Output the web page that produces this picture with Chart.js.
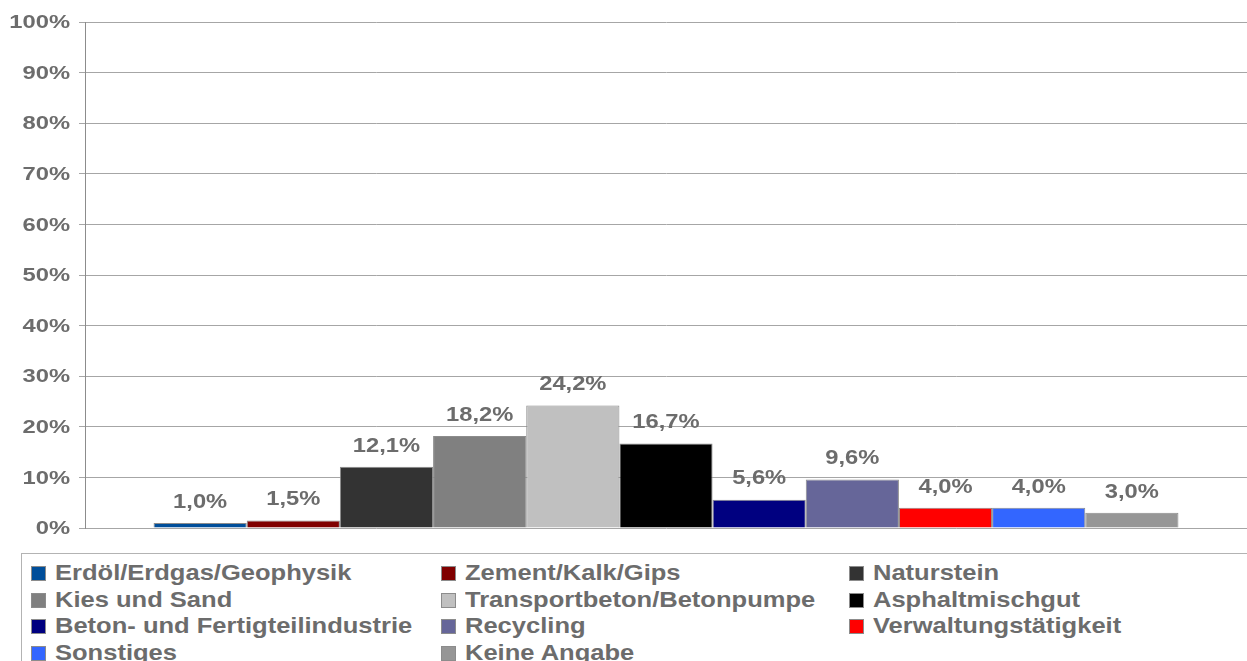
<!DOCTYPE html>
<html>
<head>
<meta charset="utf-8">
<script src="https://cdn.jsdelivr.net/npm/chart.js@4.4.1/dist/chart.umd.min.js"></script>
<style>
  html, body { margin: 0; padding: 0; background: #fff; overflow: hidden; }
  #wrap { position: relative; width: 1247px; height: 661px; }
  #chartBox { position: absolute; left: 0; top: 0; width: 1247px; height: 545px; }
  #legend {
    position: absolute; left: 21px; top: 553px; width: 1240px; height: 120px;
    border: 1px solid #b3b3b3; box-sizing: border-box;
    font-family: "Liberation Sans", Arial, sans-serif; font-weight: bold;
    font-size: 22px; color: #6c6c6c;
  }
  .item { position: absolute; height: 27px; line-height: 27px; white-space: nowrap; }
  .sw { position: absolute; left: 0; top: 7px; width: 13px; height: 13px; border: 1px solid #8c8c8c; }
  .txt { position: absolute; left: 24px; top: 0; display: inline-block;
         transform: scaleX(1.16); transform-origin: left center; }
</style>
</head>
<body>
<div id="wrap">
  <div id="chartBox"><canvas id="dataChart"></canvas></div>
  <div id="legend"></div>
</div>
<script>
const categories = ['Erdöl/Erdgas/Geophysik', 'Zement/Kalk/Gips', 'Naturstein', 'Kies und Sand',
  'Transportbeton/Betonpumpe', 'Asphaltmischgut', 'Beton- und Fertigteilindustrie', 'Recycling',
  'Verwaltungstätigkeit', 'Sonstiges', 'Keine Angabe'];
const values = [1.0, 1.5, 12.1, 18.2, 24.2, 16.7, 5.6, 9.6, 4.0, 4.0, 3.0];
const colors = ['#004e9a', '#800000', '#333333', '#808080', '#c0c0c0', '#000000',
  '#000080', '#666699', '#ff0000', '#3366ff', '#969696'];
const yTicks = [0, 10, 20, 30, 40, 50, 60, 70, 80, 90, 100];

const fontFam = '"Liberation Sans", Arial, sans-serif';
const textGray = '#6c6c6c';

// one dataset per category so the bars sit side by side
const datasets = categories.map((name, i) => {
    return {
        label: name,
        data: [values[i]],
        backgroundColor: colors[i],
        borderColor: '#8c8c8c',
        borderWidth: 1,
        borderSkipped: 'bottom',
        categoryPercentage: 0.882,
        barPercentage: 1.0
    };
});

// the text in the original is a bit stretched sideways
function wideText(ctx, txt, x, y, sx, align) {
    ctx.save();
    ctx.translate(x, y);
    ctx.scale(sx, 1);
    ctx.textAlign = align;
    ctx.fillText(txt, 0, 0);
    ctx.restore();
}

const textPlugin = {
    id: 'textPlugin',
    afterDraw(chart) {
        const ctx = chart.ctx;
        const y = chart.scales.y;
        ctx.save();
        ctx.fillStyle = textGray;
        ctx.textBaseline = 'middle';

        // y tick labels
        ctx.font = 'bold 19px ' + fontFam;
        yTicks.forEach(v => {
            wideText(ctx, v + '%', 70, y.getPixelForValue(v) + 1, 1.25, 'right');
        });

        // value labels above the bars
        ctx.font = 'bold 21px ' + fontFam;
        chart.data.datasets.forEach((ds, i) => {
            const bar = chart.getDatasetMeta(i).data[0];
            const txt = ds.data[0].toFixed(1).replace('.', ',') + '%';
            wideText(ctx, txt, bar.x, bar.y - 21, 1.13, 'center');
        });
        ctx.restore();
    }
};

const ctx = document.getElementById('dataChart').getContext('2d');
new Chart(ctx, {
    type: 'bar',
    data: { labels: [''], datasets: datasets },
    options: {
        responsive: true,
        maintainAspectRatio: false,
        animation: false,
        layout: { padding: { top: 22, right: 0, left: 0, bottom: 17 } },
        plugins: { legend: { display: false }, tooltip: { enabled: false } },
        scales: {
            x: { display: false },
            y: {
                min: 0, max: 100,
                afterFit(scale) { scale.width = 85; },
                afterBuildTicks(scale) { scale.ticks = yTicks.map(v => ({ value: v })); },
                ticks: { display: false },
                grid: { color: '#a6a6a6', lineWidth: 1, tickLength: 6, drawTicks: true },
                border: { color: '#8c8c8c', width: 1 }
            }
        }
    },
    plugins: [textPlugin]
});

// legend in three columns
const legend = document.getElementById('legend');
const colX = [9, 419, 827];
categories.forEach((name, i) => {
    const el = document.createElement('div');
    el.className = 'item';
    el.style.left = colX[i % 3] + 'px';
    el.style.top = (5 + Math.floor(i / 3) * 26.7) + 'px';
    el.innerHTML = '<span class="sw" style="background:' + colors[i] + '"></span>' +
        '<span class="txt">' + name + '</span>';
    legend.appendChild(el);
});
</script>
</body>
</html>
